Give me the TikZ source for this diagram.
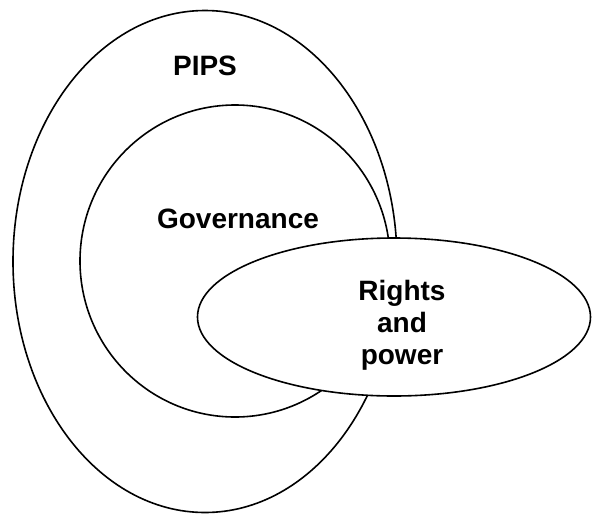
\documentclass[tikz,border=0pt]{standalone}
\usepackage{fontspec}
\setmainfont{Liberation Sans}
\begin{document}
\begin{tikzpicture}[x=1pt,y=-1pt,
  ring/.style={draw=black,line width=1.6pt},
  lbl/.style={font=\fontsize{28}{32}\selectfont\bfseries,inner sep=0pt,align=center}]
\useasboundingbox (0,0) rectangle (592,515);
\draw[ring] (205,261.5) ellipse [x radius=192, y radius=251];
\draw[ring] (235,261) ellipse [x radius=155, y radius=156];
\draw[ring,fill=white] (394,317) ellipse [x radius=196.5, y radius=79];
\node[lbl,anchor=base] (pips) at (205,75) {PIPS};
\node[lbl,anchor=base] (gov) at (238,228) {Governance};
\node[lbl] (rights) at (402,325) {Rights\\and\\power};
\end{tikzpicture}
\end{document}
